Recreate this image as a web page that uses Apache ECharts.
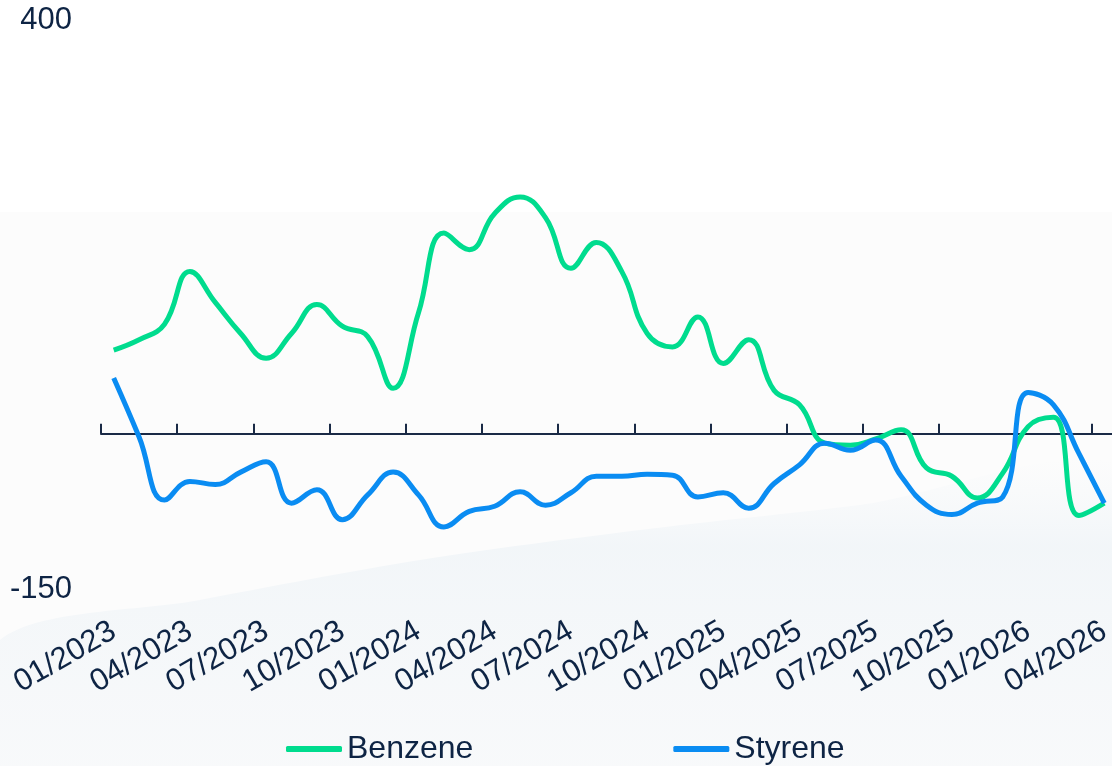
<!DOCTYPE html>
<html>
<head>
<meta charset="utf-8">
<script src="https://cdn.jsdelivr.net/npm/echarts@6/dist/echarts.min.js"></script>
<style>
html,body{margin:0;padding:0;background:#ffffff;overflow:hidden;width:1112px;height:766px;}
#chart{width:1124px;height:766px;}
</style>
</head>
<body>
<div id="chart"></div>
<script>
const categories = [
  '01/2023','02/2023','03/2023','04/2023','05/2023','06/2023','07/2023','08/2023','09/2023','10/2023','11/2023','12/2023',
  '01/2024','02/2024','03/2024','04/2024','05/2024','06/2024','07/2024','08/2024','09/2024','10/2024','11/2024','12/2024',
  '01/2025','02/2025','03/2025','04/2025','05/2025','06/2025','07/2025','08/2025','09/2025','10/2025','11/2025','12/2025',
  '01/2026','02/2026','03/2026','04/2026'
];
const benzene = [81, 91, 106, 157, 127, 97, 73, 97, 125, 104, 94, 44,
  117, 194, 178, 213, 229, 209, 160, 185, 157, 97, 84, 113,
  68, 91, 42, 28, -9, -11, -5, 4, -33, -41, -62, -38,
  7, 16, -79, -67];
const styrene = [54, -3, -64, -46, -49, -37, -27, -67, -54, -83, -59, -37,
  -59, -90, -75, -70, -56, -69, -57, -41, -41, -39, -40, -61,
  -57, -72, -48, -30, -9, -16, -6, -41, -69, -78, -67, -61,
  40, 28, -19, -67];
const yMin = -150, yMax = 400;
const yLabels = [-150, 400];

const textColor = '#0e2444';
const font = 'Liberation Sans, Arial, sans-serif';

const chart = echarts.init(document.getElementById('chart'));
chart.setOption({
  backgroundColor: '#ffffff',
  animation: false,
  graphic: [
    { type: 'rect', z: -10, shape: { x: 0, y: 212, width: 1124, height: 554 }, style: { fill: '#fcfcfc' } },
    { type: 'polygon', z: -9, shape: { smooth: 0.3, points: [[0,640],[200,600],[420,560],[640,530],[860,505],[1124,470],[1124,766],[0,766]] },
      style: { fill: new echarts.graphic.LinearGradient(0,0,0,1,[
        {offset:0,color:'rgba(232,240,246,0.0)'},
        {offset:0.25,color:'rgba(226,236,243,0.38)'},
        {offset:1,color:'rgba(240,244,248,0.28)'}]) } }
  ],
  grid: { left: 101, top: 20, width: 1016, height: 569, containLabel: false },
  legend: {
    bottom: -4, left: 281,
    icon: 'roundRect', itemWidth: 56, itemHeight: 6, itemGap: 200,
    textStyle: { fontSize: 32, color: textColor, fontFamily: font },
    data: ['Benzene', 'Styrene']
  },
  xAxis: [
    {
      type: 'category', data: categories, boundaryGap: true, position: 'bottom',
      axisLine: { show: false, onZero: false }, axisTick: { show: false },
      axisLabel: { interval: 2, rotate: 30, margin: 40, fontSize: 31, color: textColor, fontFamily: font },
      splitLine: { show: false }
    },
    {
      type: 'category', data: categories, boundaryGap: true, position: 'bottom',
      axisLine: { show: true, onZero: true, lineStyle: { color: '#1a2a46', width: 2 } },
      axisTick: { show: true, interval: 2, inside: true, length: 10, lineStyle: { color: '#1a2a46', width: 2 } },
      axisLabel: { show: false }, splitLine: { show: false }
    }
  ],
  yAxis: {
    type: 'value', min: yMin, max: yMax, interval: 50,
    axisLine: { show: false }, axisTick: { show: false }, splitLine: { show: false },
    axisLabel: {
      margin: 29, fontSize: 31, color: textColor, fontFamily: font,
      formatter: function (v) { return yLabels.indexOf(v) >= 0 ? String(v) : ''; }
    }
  },
  series: [
    { name: 'Benzene', type: 'line', data: benzene, smooth: 0.45, symbol: 'none', xAxisIndex: 0,
      lineStyle: { color: '#00dc8e', width: 5 }, itemStyle: { color: '#00dc8e' } },
    { name: 'Styrene', type: 'line', data: styrene, smooth: 0.45, symbol: 'none', xAxisIndex: 0,
      lineStyle: { color: '#0a8cf2', width: 5 }, itemStyle: { color: '#0a8cf2' } }
  ]
});
</script>
</body>
</html>
